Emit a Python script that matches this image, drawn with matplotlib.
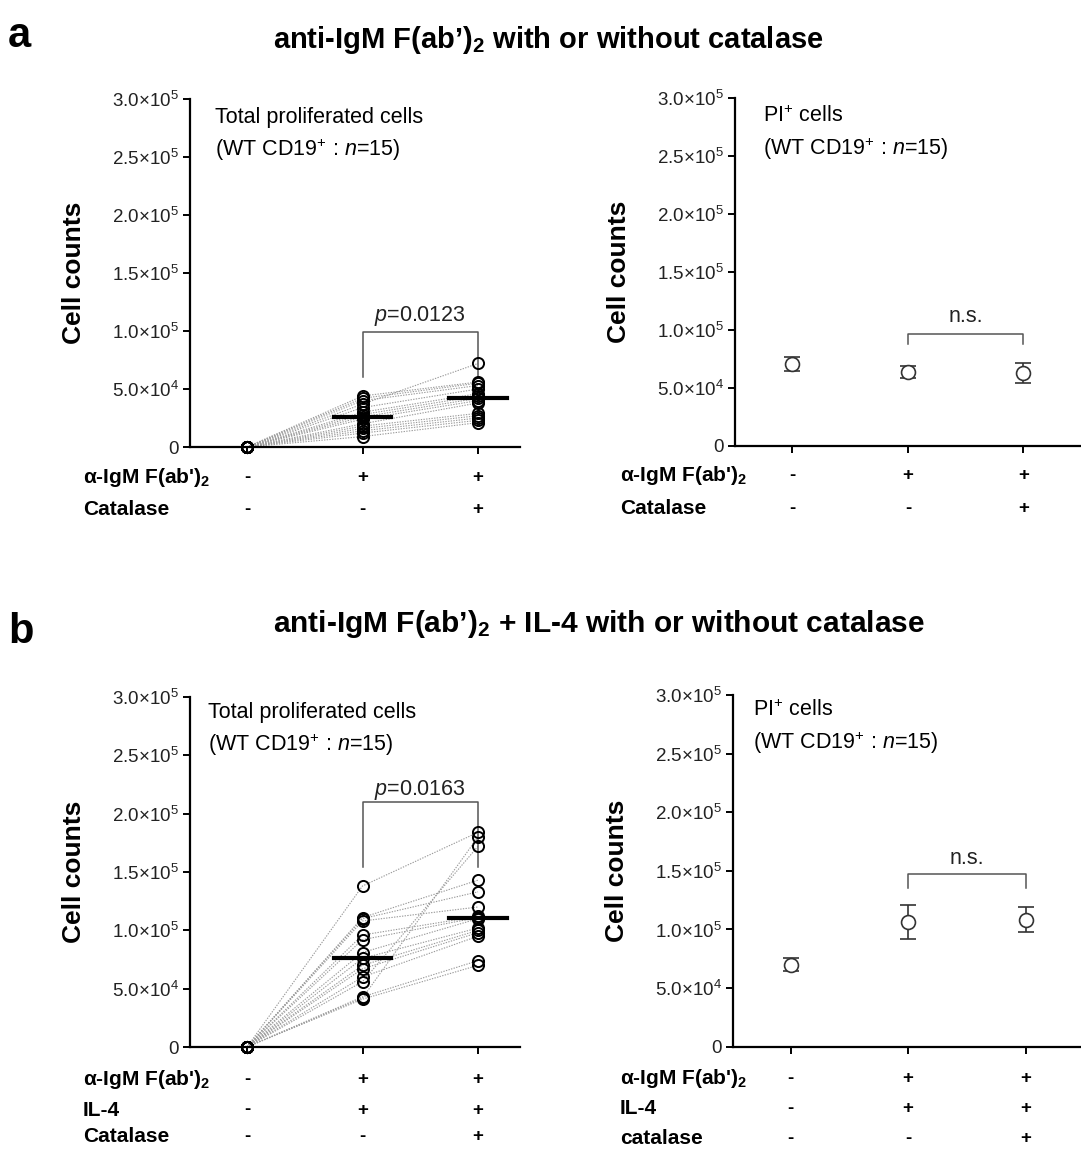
import matplotlib
matplotlib.use("Agg")
import matplotlib.pyplot as plt
import numpy as np

plt.rcParams['font.family'] = ['Liberation Sans', 'DejaVu Sans']
plt.rcParams['mathtext.fontset'] = 'custom'
plt.rcParams['mathtext.rm'] = 'Liberation Sans'
plt.rcParams['mathtext.it'] = 'Liberation Sans:italic'
plt.rcParams['mathtext.bf'] = 'Liberation Sans:bold'

# --- data (cell counts) ---
# panel a, total proliferated cells, one entry per mouse
a_unstim = [0] * 15
a_stim = [4.4e4, 4.2e4, 4.0e4, 3.7e4, 3.4e4, 3.0e4, 2.8e4, 2.6e4,
          2.4e4, 2.0e4, 1.8e4, 1.6e4, 1.4e4, 1.2e4, 0.9e4]
a_cat = [5.6e4, 5.5e4, 5.3e4, 7.2e4, 5.0e4, 4.6e4, 4.4e4, 4.2e4,
         4.0e4, 3.8e4, 2.9e4, 2.7e4, 2.5e4, 2.3e4, 2.1e4]
# panel b, total proliferated cells
b_unstim = [0] * 15
b_stim = [13.8e4, 4.2e4, 5.6e4, 11.1e4, 11.0e4, 10.8e4, 9.6e4, 9.2e4,
          8.1e4, 7.6e4, 7.0e4, 6.7e4, 6.0e4, 4.3e4, 4.1e4]
b_cat = [18.4e4, 18.0e4, 17.2e4, 14.3e4, 13.3e4, 12.0e4, 11.2e4, 11.1e4,
         11.0e4, 10.2e4, 10.0e4, 9.8e4, 9.5e4, 7.4e4, 7.0e4]

# PI+ cells, mean and error
a_pi_mean = [7.1e4, 6.4e4, 6.3e4]
a_pi_err = [0.6e4, 0.5e4, 0.85e4]
b_pi_mean = [7.0e4, 10.65e4, 10.85e4]
b_pi_err = [0.57e4, 1.45e4, 1.1e4]

yticks = [0, 5e4, 1e5, 1.5e5, 2e5, 2.5e5, 3e5]
ytick_labels = ['0', r'5.0$\times$10$^{4}$', r'1.0$\times$10$^{5}$',
                r'1.5$\times$10$^{5}$', r'2.0$\times$10$^{5}$',
                r'2.5$\times$10$^{5}$', r'3.0$\times$10$^{5}$']

igm = "α-IgM F(ab')$_\\mathbf{2}$"
a_rows = [igm, 'Catalase']
a_signs = [['-', '+', '+'], ['-', '-', '+']]
b_rows_left = [igm, 'IL-4', 'Catalase']
b_rows_right = [igm, 'IL-4', 'catalase']
b_signs = [['-', '+', '+'], ['-', '+', '+'], ['-', '-', '+']]

W, H = 1081, 1149
fig = plt.figure(figsize=(W / 100, H / 100), dpi=100)


def px_axes(x0, y_top, x1, y_bot):
    return fig.add_axes([x0 / W, 1 - y_bot / H, (x1 - x0) / W, (y_bot - y_top) / H])


def style(ax, xlim):
    ax.set_xlim(*xlim)
    ax.set_ylim(0, 3e5)
    for s in ['top', 'right']:
        ax.spines[s].set_visible(False)
    for s in ['left', 'bottom']:
        ax.spines[s].set_linewidth(1.6)
    ax.set_yticks(yticks)
    ax.set_yticklabels(ytick_labels, fontsize=13.5, color='#222222')
    ax.set_xticks([0, 1, 2])
    ax.set_xticklabels([])
    ax.tick_params(axis='both', direction='out', length=5, width=1.4, pad=3)
    ax.set_ylabel('Cell counts', fontsize=19, fontweight='bold', labelpad=19)


def bracket(ax, x0, x1, y0, y1, label, ty):
    ax.plot([x0, x0, x1, x1], [y0, y1, y1, y0], color='#555555', lw=1.1,
            clip_on=False)
    ax.text((x0 + x1) / 2, ty, label, ha='center', va='center', fontsize=15.5,
            color='#222222')


def rows(ax, labels, signs, ys, label_x, fs=15):
    for lab, sg, yy in zip(labels, signs, ys):
        ax.text(label_x, yy, lab, transform=ax.transAxes, ha='left', va='center',
                fontsize=fs, fontweight='bold')
        for i, s in enumerate(sg):
            ax.text(i, yy, s, transform=ax.get_xaxis_transform(), ha='center',
                    va='center', fontsize=fs - 1.5, fontweight='bold')


def paired(ax, unstim, stim, cat, med_stim, med_cat):
    for u, s, c in zip(unstim, stim, cat):
        ax.plot([0, 1, 2], [u, s, c], color='#9a9a9a', lw=0.8, ls=(0, (1.2, 1.2)),
                zorder=1)
    for i, vals in enumerate([unstim, stim, cat]):
        ax.plot([i] * len(vals), vals, ls='none', marker='o', ms=8, mfc='none',
                mec='black', mew=1.4, zorder=3, clip_on=False)
    ax.plot([1 - 0.25, 1 + 0.25], [med_stim] * 2, color='black', lw=3, zorder=4)
    ax.plot([2 - 0.25, 2 + 0.25], [med_cat] * 2, color='black', lw=3, zorder=4)


def pi_panel(ax, mean, err):
    ax.errorbar([0, 1, 2], mean, yerr=err, fmt='o', ms=10, mfc='white',
                mec='#333333', mew=1.2, ecolor='#333333', elinewidth=1.2,
                capsize=6, capthick=1.2, clip_on=False)


def caption(ax, first, x, y1, y2):
    ax.text(x, y1, first, transform=ax.transAxes, fontsize=15.5, va='center')
    ax.text(x, y2, r'(WT CD19$^{+}$ : $n$=15)', transform=ax.transAxes,
            fontsize=15.5, va='center')


# ---------- panel a ----------
axL = px_axes(190, 99, 520, 447)
style(axL, (-0.494, 2.364))
paired(axL, a_unstim, a_stim, a_cat, np.median(a_stim), np.median(a_cat))
bracket(axL, 1, 2, 6.0e4, 9.9e4, '$p$=0.0123', 1.13e5)
caption(axL, 'Total proliferated cells', 0.076, 0.948, 0.853)
rows(axL, a_rows, a_signs, [-0.089, -0.181], -0.324)

axR = px_axes(735, 98, 1081, 446)
style(axR, (-0.497, 2.498))
pi_panel(axR, a_pi_mean, a_pi_err)
bracket(axR, 1, 2, 8.8e4, 9.66e4, 'n.s.', 11.2e4)
caption(axR, r'PI$^{+}$ cells', 0.081, 0.948, 0.853)
rows(axR, a_rows, a_signs, [-0.086, -0.181], -0.332)

# ---------- panel b ----------
bxL = px_axes(190, 697, 520, 1047)
style(bxL, (-0.494, 2.364))
paired(bxL, b_unstim, b_stim, b_cat, np.median(b_stim), np.median(b_cat))
bracket(bxL, 1, 2, 15.4e4, 21.0e4, '$p$=0.0163', 22.0e4)
caption(bxL, 'Total proliferated cells', 0.055, 0.957, 0.863)
rows(bxL, b_rows_left, b_signs, [-0.094, -0.18, -0.257], -0.324)

bxR = px_axes(733, 695, 1081, 1046.7)
style(bxR, (-0.49, 2.47))
pi_panel(bxR, b_pi_mean, b_pi_err)
bracket(bxR, 1, 2, 13.5e4, 14.7e4, 'n.s.', 16.05e4)
caption(bxR, r'PI$^{+}$ cells', 0.057, 0.957, 0.863)
rows(bxR, b_rows_right, b_signs, [-0.091, -0.177, -0.262], -0.325)

# ---------- headings ----------
fig.text(8 / W, 1 - 36 / H, 'a', fontsize=30, fontweight='bold', va='center')
fig.text(273 / W, 1 - 40 / H, 'anti-IgM F(ab’)$_\\mathbf{2}$ with or without catalase',
         fontsize=21, fontweight='bold', va='center')
fig.text(8 / W, 1 - 632 / H, 'b', fontsize=30, fontweight='bold', va='center')
fig.text(273 / W, 1 - 624 / H,
         'anti-IgM F(ab’)$_\\mathbf{2}$ + IL-4 with or without catalase',
         fontsize=21.5, fontweight='bold', va='center')

fig.savefig('out.png', dpi=100)
